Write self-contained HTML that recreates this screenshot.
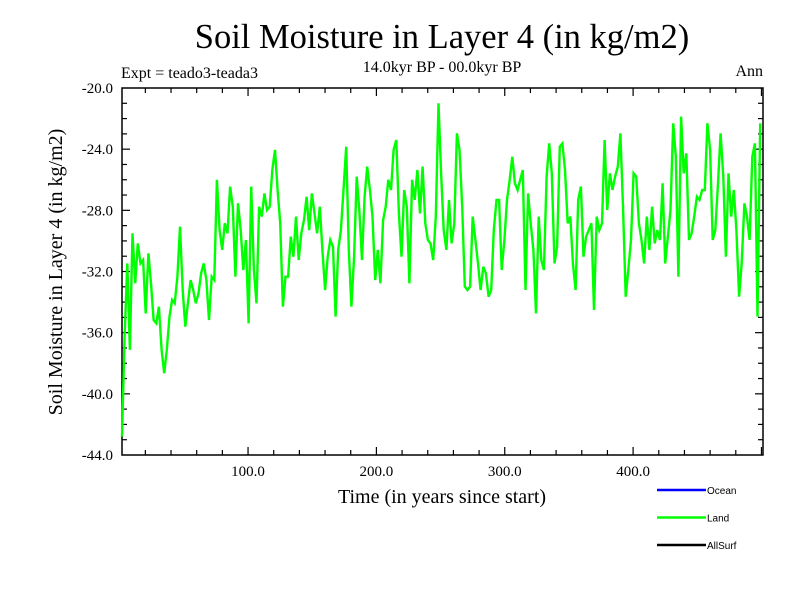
<!DOCTYPE html>
<html><head><meta charset="utf-8"><style>
body{margin:0;background:#fff;}
svg{display:block;font-family:"Liberation Serif",serif;}
</style></head><body>
<svg id="chart" width="800" height="600">
<text x="442" y="48" font-size="34.5" text-anchor="middle">Soil Moisture in Layer 4 (in kg/m2)</text>
<text x="442" y="72" font-size="16" text-anchor="middle">14.0kyr BP - 00.0kyr BP</text>
<text x="121" y="78" font-size="16">Expt = teado3-teada3</text>
<text x="763" y="76" font-size="16" text-anchor="end">Ann</text>
<text x="442" y="503" font-size="20" text-anchor="middle">Time (in years since start)</text>
<text transform="translate(62,272) rotate(-90)" font-size="20" text-anchor="middle">Soil Moisture in Layer 4 (in kg/m2)</text>
<g id="axes"></g>
<g id="series"></g>
<g id="legend" font-family="Liberation Sans, sans-serif" font-size="10"></g>
</svg>
<script>
const seriesLand = [
-42.8,-36.26,-31.47,-37.13,-29.5,-32.77,-30.16,-31.47,-31.25,-34.74,-30.81,-32.77,-35.17,-35.39,-34.3,-37.13,-38.66,-37.13,-34.95,-33.86,-34.08,-32.34,-29.07,-33.21,-35.61,-34.08,-32.56,-33.21,-34.08,-33.43,-32.12,-31.47,-32.56,-35.17,-32.34,-32.56,-26.0,-29.29,-30.59,-28.85,-29.5,-26.45,-27.76,-32.34,-27.54,-29.29,-31.9,-29.94,-35.39,-26.45,-31.9,-34.08,-27.76,-28.41,-26.89,-27.98,-27.76,-25.36,-24.05,-26.67,-28.85,-34.3,-32.34,
-32.34,-29.72,-31.03,-28.41,-31.25,-29.5,-28.63,-27.11,-29.29,-26.89,-28.2,-29.5,-27.76,-30.59,-33.21,-31.03,-29.94,-30.38,-34.95,-30.59,-29.29,-26.67,-23.84,-30.59,-34.3,-31.03,-25.8,-27.98,-31.25,-27.11,-25.14,-26.67,-28.41,-32.56,-30.59,-32.77,-28.63,-27.76,-26.0,-26.67,-24.05,-23.4,-28.2,-31.03,-26.67,-27.76,-32.77,-26.0,-27.32,-25.36,-28.2,-25.14,-28.85,-29.94,-30.16,-31.25,-28.41,-21.0,-25.58,-29.29,-30.59,
-27.32,-30.16,-28.85,-22.96,-24.05,-27.76,-32.99,-33.21,-32.99,-28.41,-29.94,-31.47,-33.21,-31.69,-32.12,-33.65,-33.21,-29.29,-27.32,-27.32,-31.9,-29.94,-27.32,-26.0,-24.49,-26.23,-26.67,-26.0,-25.36,-33.21,-26.89,-28.85,-30.59,-34.74,-28.41,-31.25,-31.9,-25.8,-23.62,-25.58,-31.47,-30.38,-23.84,-23.62,-25.36,-28.85,-28.41,-31.47,-33.21,-27.32,-26.45,-31.03,-29.72,-29.29,-28.85,-34.52,-28.41,-29.29,
-28.85,-23.4,-27.98,-25.58,-26.67,-25.8,-25.14,-22.96,-27.76,-33.65,-31.9,-29.94,-25.58,-25.8,-28.85,-29.94,-31.47,-28.41,-30.59,-27.76,-30.16,-29.29,-29.94,-26.23,-31.47,-29.72,-27.98,-22.31,-24.49,-32.34,-21.87,-25.58,-24.27,-29.94,-29.5,-28.41,-27.11,-27.32,-26.67,-26.67,-22.31,-24.05,-29.94,-29.29,-26.23,-22.96,-25.8,-31.03,-25.58,-28.41,-26.67,-29.29,-33.65,-31.47,-27.54,-28.41,-29.94,-24.49,-23.62,-34.95,-22.31
];
const sampleYearRange = [1.8, 499];
const xTickValues = [100, 200, 300, 400];
const xTickLabels = ["100.0", "200.0", "300.0", "400.0"];
const yTickValues = [-20, -24, -28, -32, -36, -40, -44];
const yTickLabels = ["-20.0", "-24.0", "-28.0", "-32.0", "-36.0", "-40.0", "-44.0"];
const legendNames = ["Ocean", "Land", "AllSurf"];
const legendColors = ["#0000ff", "#00ff00", "#000000"];

const NS = "http://www.w3.org/2000/svg";
const L = 122, R = 763, T = 88, B = 455;
const xDom = [1.8, 501.2], yDom = [-44, -20];
const xs = v => L + (v - xDom[0]) / (xDom[1] - xDom[0]) * (R - L);
const ys = v => B - (v - yDom[0]) / (yDom[1] - yDom[0]) * (B - T);
function mk(tag, attrs, parent) { const e = document.createElementNS(NS, tag); for (const k in attrs) e.setAttribute(k, attrs[k]); parent.appendChild(e); return e; }

const axes = document.getElementById("axes");
const frame = mk("rect", {x: L, y: T, width: R - L, height: B - T, fill: "none", stroke: "#000", "stroke-width": 1.5}, axes);


for (let v = 20; v < 501; v += 20) {
  const major = v % 100 === 0, len = major ? 8 : 5, x = xs(v);
  const t1 = mk("line", {x1: x, x2: x, y1: B, y2: B - len, stroke: "#000", "stroke-width": 1.2}, axes);
  
  
  const t2 = mk("line", {x1: x, x2: x, y1: T, y2: T + len, stroke: "#000", "stroke-width": 1.2}, axes);
  
  
}
xTickValues.forEach((v, i) => {
  const t = mk("text", {x: xs(v), y: 476, "font-size": 15, "text-anchor": "middle"}, axes);
  t.textContent = xTickLabels[i];
  
  
});
for (let v = -43; v <= -21; v += 1) {
  const major = v % 4 === 0, len = major ? 8 : 5, y = ys(v);
  const t1 = mk("line", {x1: L, x2: L + len, y1: y, y2: y, stroke: "#000", "stroke-width": 1.2}, axes);
  
  
  const t2 = mk("line", {x1: R, x2: R - len, y1: y, y2: y, stroke: "#000", "stroke-width": 1.2}, axes);
  
  
}
yTickValues.forEach((v, i) => {
  const t = mk("text", {x: 113, y: ys(v) + 5, "font-size": 15, "text-anchor": "end"}, axes);
  t.textContent = yTickLabels[i];
  
  
});
const n = seriesLand.length;
const step = (sampleYearRange[1] - sampleYearRange[0]) / (n - 1);
const pts = seriesLand.map((v, i) => xs(sampleYearRange[0] + i * step).toFixed(1) + "," + ys(v).toFixed(1)).join(" ");
const line = mk("polyline", {points: pts, fill: "none", stroke: "#00ff00", "stroke-width": 2.4, "stroke-linejoin": "miter"}, document.getElementById("series"));


const lg = document.getElementById("legend");
legendNames.forEach((name, i) => {
  const y = 490 + i * 27.5;
  const l = mk("line", {x1: 657, x2: 706, y1: y, y2: y, stroke: legendColors[i], "stroke-width": 2.5}, lg);
  
  
  const t = mk("text", {x: 707, y: y + 4}, lg);
  t.textContent = name;
  
  
});
</script>
</body></html>
